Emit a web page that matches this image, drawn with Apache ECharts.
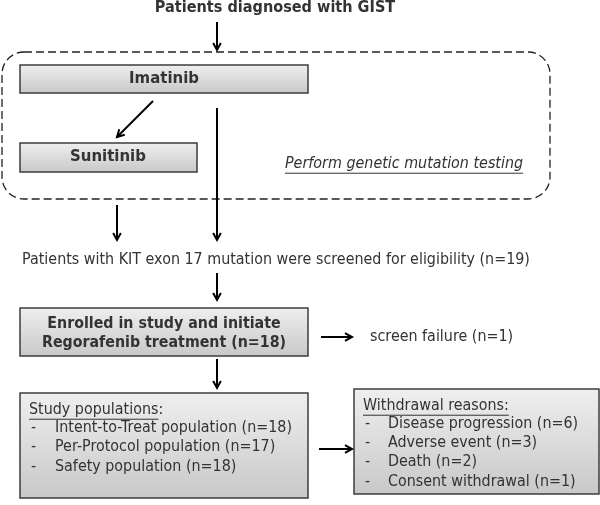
<!DOCTYPE html>
<html>
<head>
<meta charset="utf-8">
<script src="https://cdn.jsdelivr.net/npm/echarts@6/dist/echarts.min.js"></script>
<style>
  html, body { margin: 0; background: #fff; }
  #chart { width: 600px; height: 505px; }
</style>
</head>
<body>
<div id="chart"></div>
<script>
// --- flow content ---
const startLabel = 'Patients diagnosed with GIST'
const therapyLines = ['Imatinib', 'Sunitinib']
const testingNote = 'Perform genetic mutation testing'
const screenedN = 19
const enrolledN = 18
const screenFailN = 1
const populationNames = ['Intent-to-Treat population', 'Per-Protocol population', 'Safety population']
const populationN = [18, 17, 18]
const withdrawalNames = ['Disease progression', 'Adverse event', 'Death', 'Consent withdrawal']
const withdrawalN = [6, 3, 2, 1]

// --- layout (page units, y grows downward) ---
// Verdana-like face squeezed a little so it reads like Tahoma
const FONT = '"DejaVu Sans", Verdana, sans-serif'
const SQUEEZE = 0.9
const INK = '#333'
const BODY = 15.9
const groupFrame = [2, 52, 550, 199]
const boxRects = [
  [20, 65, 308, 93],    // imatinib
  [20, 143, 197, 172],  // sunitinib
  [20, 308, 308, 356],  // enrolled
  [20, 393, 308, 498],  // study populations
  [354, 389, 599, 494]  // withdrawal
]
const arrowSegs = [
  [217, 22, 217, 50],
  [153, 101, 117, 137],
  [217, 108, 217, 240],
  [117, 205, 117, 240],
  [217, 273, 217, 300],
  [321, 337, 352, 337],
  [217, 359, 217, 388],
  [319, 449, 352, 449]
]

const n = v => '(n=' + v + ')'
const texts = [
  { x: 275, y: 8, t: startLabel, bold: true, size: 16.1, align: 'center' },
  { x: 164, y: 79, t: therapyLines[0], bold: true, size: 16.6, align: 'center' },
  { x: 108, y: 157, t: therapyLines[1], bold: true, size: 16.6, align: 'center' },
  { x: 285, y: 164, t: testingNote, italic: true, size: BODY, align: 'left', underline: true },
  { x: 22, y: 260, t: 'Patients with KIT exon 17 mutation were screened for eligibility ' + n(screenedN), size: BODY, align: 'left' },
  { x: 164, y: 324, t: 'Enrolled in study and initiate', bold: true, size: 15.8, align: 'center' },
  { x: 164, y: 343, t: 'Regorafenib treatment ' + n(enrolledN), bold: true, size: 15.8, align: 'center' },
  { x: 370, y: 337, t: 'screen failure ' + n(screenFailN), size: BODY, align: 'left' },
  { x: 29, y: 410, t: 'Study populations', size: BODY, align: 'left', underline: true, suffix: ':' }
]
const popRows = [428, 447, 467]
populationNames.forEach((name, i) => {
  texts.push({ x: 31, y: popRows[i], t: '-', size: BODY, align: 'left' })
  texts.push({ x: 55, y: popRows[i], t: name + ' ' + n(populationN[i]), size: BODY, align: 'left' })
})
texts.push({ x: 363, y: 406, t: 'Withdrawal reasons:', size: BODY, align: 'left', underline: true })
const wdRows = [424, 443, 462, 482]
withdrawalNames.forEach((name, i) => {
  texts.push({ x: 365, y: wdRows[i], t: '-', size: BODY, align: 'left' })
  texts.push({ x: 388, y: wdRows[i], t: name + ' ' + n(withdrawalN[i]), size: BODY, align: 'left' })
})

const measureCtx = document.createElement('canvas').getContext('2d')
function fontOf(d) {
  return (d.italic ? 'italic ' : '') + (d.bold ? 'bold ' : '') + d.size + 'px ' + FONT
}

const chart = echarts.init(document.getElementById('chart'))

const boxFill = new echarts.graphic.LinearGradient(0, 0, 0, 1, [
  { offset: 0, color: '#efefef' },
  { offset: 1, color: '#c8c8c8' }
])

const option = {
  animation: false,
  grid: { left: 0, right: 0, top: 0, bottom: 0 },
  xAxis: { type: 'value', min: 0, max: 600, show: false },
  yAxis: { type: 'value', min: 0, max: 505, inverse: true, show: false },
  series: [
    {
      // dashed treatment frame
      type: 'custom',
      encode: { x: [0, 2], y: [1, 3] },
      data: [groupFrame],
      renderItem: (params, api) => {
        const a = api.coord([api.value(0), api.value(1)])
        const b = api.coord([api.value(2), api.value(3)])
        return {
          type: 'rect',
          shape: { x: a[0], y: a[1], width: b[0] - a[0], height: b[1] - a[1], r: 22 },
          style: { fill: 'none', stroke: '#222', lineWidth: 1.3, lineDash: [8, 4] }
        }
      }
    },
    {
      type: 'custom',
      encode: { x: [0, 2], y: [1, 3] },
      data: boxRects,
      renderItem: (params, api) => {
        const a = api.coord([api.value(0), api.value(1)])
        const b = api.coord([api.value(2), api.value(3)])
        return {
          type: 'rect',
          shape: { x: a[0], y: a[1], width: b[0] - a[0], height: b[1] - a[1] },
          style: { fill: boxFill, stroke: '#3c3c3c', lineWidth: 1.5 }
        }
      }
    },
    {
      type: 'custom',
      encode: { x: [0, 2], y: [1, 3] },
      data: arrowSegs,
      renderItem: (params, api) => {
        const a = api.coord([api.value(0), api.value(1)])
        const b = api.coord([api.value(2), api.value(3)])
        const ang = Math.atan2(b[1] - a[1], b[0] - a[0])
        const len = 8, spread = 0.5
        const h1 = [b[0] - len * Math.cos(ang - spread), b[1] - len * Math.sin(ang - spread)]
        const h2 = [b[0] - len * Math.cos(ang + spread), b[1] - len * Math.sin(ang + spread)]
        const st = { stroke: '#000', lineWidth: 2, fill: 'none' }
        return {
          type: 'group',
          children: [
            { type: 'line', shape: { x1: a[0], y1: a[1], x2: b[0], y2: b[1] }, style: st },
            { type: 'polyline', shape: { points: [h1, b, h2] }, style: st }
          ]
        }
      }
    },
    {
      type: 'custom',
      data: texts.map(d => [d.x, d.y]),
      renderItem: (params, api) => {
        const d = texts[params.dataIndex]
        const p = api.coord([api.value(0), api.value(1)])
        const font = fontOf(d)
        const children = [{
          type: 'text',
          x: p[0], y: p[1],
          scaleX: SQUEEZE,
          style: {
            text: d.t + (d.suffix || ''),
            font: font,
            fill: INK,
            align: d.align,
            verticalAlign: 'middle'
          }
        }]
        if (d.underline) {
          measureCtx.font = font
          const w = measureCtx.measureText(d.t).width * SQUEEZE
          const x0 = d.align === 'center' ? p[0] - w / 2 : p[0]
          const uy = p[1] + d.size * 0.58
          children.push({
            type: 'line',
            shape: { x1: x0, y1: uy, x2: x0 + w, y2: uy },
            style: { stroke: INK, lineWidth: 1 }
          })
        }
        return { type: 'group', children }
      }
    }
  ]
}

chart.setOption(option)
</script>
</body>
</html>
